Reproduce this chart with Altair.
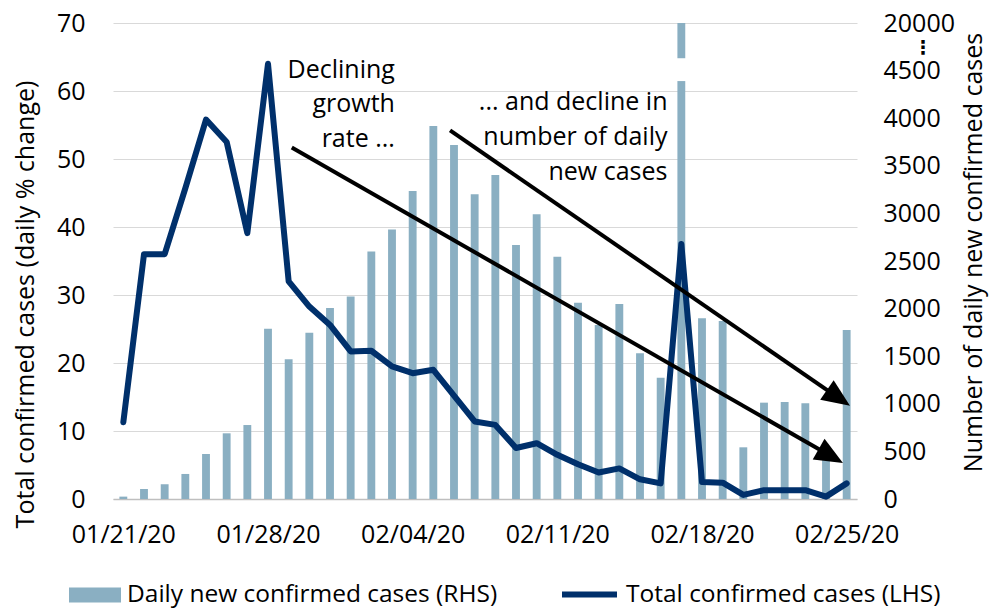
import altair as alt
import pandas as pd
import math

# ---------------- data ----------------
dates = ["01/21/20", "01/22/20", "01/23/20", "01/24/20", "01/25/20", "01/26/20",
         "01/27/20", "01/28/20", "01/29/20", "01/30/20", "01/31/20", "02/01/20",
         "02/02/20", "02/03/20", "02/04/20", "02/05/20", "02/06/20", "02/07/20",
         "02/08/20", "02/09/20", "02/10/20", "02/11/20", "02/12/20", "02/13/20",
         "02/14/20", "02/15/20", "02/16/20", "02/17/20", "02/18/20", "02/19/20",
         "02/20/20", "02/21/20", "02/22/20", "02/23/20", "02/24/20", "02/25/20"]

daily_new = [25, 105, 155, 263, 473, 690, 777, 1789, 1467, 1747, 2006, 2127,
             2600, 2830, 3235, 3918, 3718, 3200, 3403, 2668, 2990, 2545, 2062, 1827,
             2048, 1530, 1274, 19800, 1898, 1870, 543, 1012, 1019, 1005, 440, 1775]

total_growth = [11.3, 36.0, 36.0, 45.7, 55.8, 52.5, 39.1, 64.0, 32.0, 28.3, 25.6, 21.7,
                21.8, 19.5, 18.5, 19.0, 15.2, 11.4, 10.9, 7.5, 8.2, 6.5, 5.1, 3.9,
                4.5, 2.9, 2.3, 37.5, 2.5, 2.4, 0.6, 1.3, 1.3, 1.3, 0.35, 2.3]

tick_days = [0, 7, 14, 21, 28, 35]
tick_labels = ["01/21/20", "01/28/20", "02/04/20", "02/11/20", "02/18/20", "02/25/20"]

left_ticks = [0, 10, 20, 30, 40, 50, 60, 70]
right_ticks = [0, 500, 1000, 1500, 2000, 2500, 3000, 3500, 4000, 4500, 5000]
right_top_label = "20000"

ann_text = ["Declining", "growth", "rate ...", "... and decline in", "number of daily", "new cases"]
ann_x = [13.14, 13.14, 13.14, 26.33, 26.33, 26.33]
ann_y = [61.9, 56.9, 51.8, 57.2, 52.1, 46.9]

arrow_x0 = [8.15, 15.81]
arrow_y0 = [51.7, 54.2]
arrow_x1 = [34.82, 35.16]
arrow_y1 = [5.3, 13.7]

series_bar = "Daily new confirmed cases (RHS)"
series_line = "Total confirmed cases (LHS)"

# ---------------- style ----------------
FONT = "Open Sans"
BAR = "#8aafc2"
LINE = "#00306b"
W, H = 744, 476
n = len(dates)
px_day = W / n
px_unit = H / 70.0

x_scale = alt.Scale(domain=[-0.5, n - 0.5], nice=False, zero=False)
yl_scale = alt.Scale(domain=[0, 70], nice=False)
yr_scale = alt.Scale(domain=[0, 5000], nice=False)

lab_arr = "[" + ",".join(f"'{t}'" for t in tick_labels) + "]"
day_arr = "[" + ",".join(str(d) for d in tick_days) + "]"
x_axis = alt.Axis(values=tick_days, labelExpr=f"{lab_arr}[indexof({day_arr}, datum.value)]",
                  ticks=False, grid=False, domain=True, domainColor="#bfbfbf", domainWidth=1.5,
                  labelPadding=23, title=None, labelFontSize=25, labelBaseline="top")

left_axis = alt.Axis(values=left_ticks, ticks=False, domain=False, grid=True,
                     gridColor="#d9d9d9", gridWidth=1.2, labelPadding=28,
                     title="Total confirmed cases (daily % change)",
                     titleX=-88, titleY=281, titleAngle=270, titleAlign="center",
                     titleBaseline="middle")

right_axis = alt.Axis(values=right_ticks, orient="right", ticks=False, domain=False, grid=False,
                      labelPadding=26, labelAlign="left",
                      labelExpr=f"datum.value == 5000 ? '{right_top_label}' : format(datum.value, 'd')",
                      title="Number of daily new confirmed cases",
                      titleX=116, titleY=229, titleAngle=270, titleAlign="center",
                      titleBaseline="middle")

# ---------------- frames ----------------
bars_df = pd.DataFrame({"day": list(range(n)), "date": dates, "value": daily_new,
                        "series": series_bar})
line_df = pd.DataFrame({"day": list(range(n)), "date": dates, "value": total_growth,
                        "series": series_line})
spike = daily_new.index(max(daily_new))
break_df = pd.DataFrame({"a": [spike - 0.45], "b": [spike + 0.45], "lo": [4390], "hi": [4630]})
dots_df = pd.DataFrame({"x": [n - 0.5], "y": [4740], "t": ["\u22ee"]})

ann_df = pd.DataFrame({"t": ann_text, "x": ann_x, "y": ann_y})

ends_x, ends_y, angles = [], [], []
for x0, y0, x1, y1 in zip(arrow_x0, arrow_y0, arrow_x1, arrow_y1):
    dxp = (x1 - x0) * px_day
    dyp = (y0 - y1) * px_unit
    L = math.hypot(dxp, dyp)
    ux, uy = dxp / L, dyp / L
    back = 18
    ends_x.append(x1 - back * ux / px_day)
    ends_y.append(y1 + back * uy / px_unit)
    angles.append(math.degrees(math.atan2(dyp, dxp)))
arrow_df = pd.DataFrame({"x0": arrow_x0, "y0": arrow_y0, "xe": ends_x, "ye": ends_y,
                         "x1": arrow_x1, "y1": arrow_y1, "ang": angles})

# ---------------- right-axis layers ----------------
bars = alt.Chart(bars_df).transform_calculate(
    xa="datum.day - 0.19", xb="datum.day + 0.19"
).mark_bar(clip=True).encode(
    x=alt.X("xa:Q", scale=x_scale, axis=x_axis),
    x2="xb:Q",
    y=alt.Y("value:Q", scale=yr_scale, axis=right_axis),
    y2=alt.datum(0),
    fill=alt.Fill("series:N", scale=alt.Scale(domain=[series_bar], range=[BAR]),
                  legend=alt.Legend(orient="none", legendX=-44, legendY=546, title=None,
                                    symbolType="M-1,-0.29H1V0.29H-1Z", symbolSize=2704,
                                    symbolStrokeWidth=0, labelFontSize=24.5, labelFont=FONT,
                                    labelColor="#000", labelOffset=6, padding=0,
                                    labelLimit=1000)),
)

brk = alt.Chart(break_df).mark_rect(color="white").encode(
    x=alt.X("a:Q", scale=x_scale, axis=x_axis), x2="b:Q",
    y=alt.Y("lo:Q", scale=yr_scale, axis=right_axis), y2="hi:Q",
)

dots = alt.Chart(dots_df).mark_text(font="DejaVu Sans", fontSize=19, fontWeight="bold", dx=66,
                                    baseline="middle", align="center", color="#000").encode(
    x=alt.X("x:Q", scale=x_scale, axis=x_axis),
    y=alt.Y("y:Q", scale=yr_scale, axis=right_axis),
    text="t:N",
)

right = alt.layer(bars, brk, dots)

# ---------------- left-axis layers ----------------
line = alt.Chart(line_df).mark_line(strokeWidth=6, strokeJoin="round", strokeCap="round").encode(
    x=alt.X("day:Q", scale=x_scale, axis=x_axis),
    y=alt.Y("value:Q", scale=yl_scale, axis=left_axis),
    stroke=alt.Stroke("series:N", scale=alt.Scale(domain=[series_line], range=[LINE]),
                      legend=alt.Legend(orient="none", legendX=446, legendY=541, title=None,
                                        symbolType="stroke", symbolSize=3025,
                                        symbolStrokeWidth=6, labelFontSize=24.5, labelFont=FONT,
                                        labelColor="#000", labelOffset=6, padding=0,
                                        labelLimit=1000)),
)

arrows = alt.Chart(arrow_df).mark_rule(strokeWidth=4, color="black").encode(
    x=alt.X("x0:Q", scale=x_scale, axis=x_axis), x2="xe:Q",
    y=alt.Y("y0:Q", scale=yl_scale, axis=left_axis), y2="ye:Q",
)

heads = alt.Chart(arrow_df).mark_point(shape="M0,0L-2,-0.85L-2,0.85Z", filled=True, size=784,
                                       color="black", opacity=1).encode(
    x=alt.X("x1:Q", scale=x_scale, axis=x_axis),
    y=alt.Y("y1:Q", scale=yl_scale, axis=left_axis),
    angle=alt.Angle("ang:Q", scale=None),
)

texts = alt.Chart(ann_df).mark_text(align="right", baseline="alphabetic", fontSize=25,
                                    font=FONT, color="#000").encode(
    x=alt.X("x:Q", scale=x_scale, axis=x_axis),
    y=alt.Y("y:Q", scale=yl_scale, axis=left_axis),
    text="t:N",
)

left = alt.layer(line, arrows, heads, texts)

chart = alt.layer(right, left).resolve_scale(y="independent").properties(
    width=W, height=H,
    autosize=alt.AutoSizeParams(type="none"),
    padding={"left": 105, "top": 15, "right": 133, "bottom": 110},
).configure_view(stroke=None).configure_axis(
    labelFont=FONT, labelFontSize=25, labelColor="#000",
    titleFont=FONT, titleFontSize=25, titleFontWeight="normal", titleColor="#000",
)

chart.save("out.html", embed_options={"renderer": "svg", "actions": False})
